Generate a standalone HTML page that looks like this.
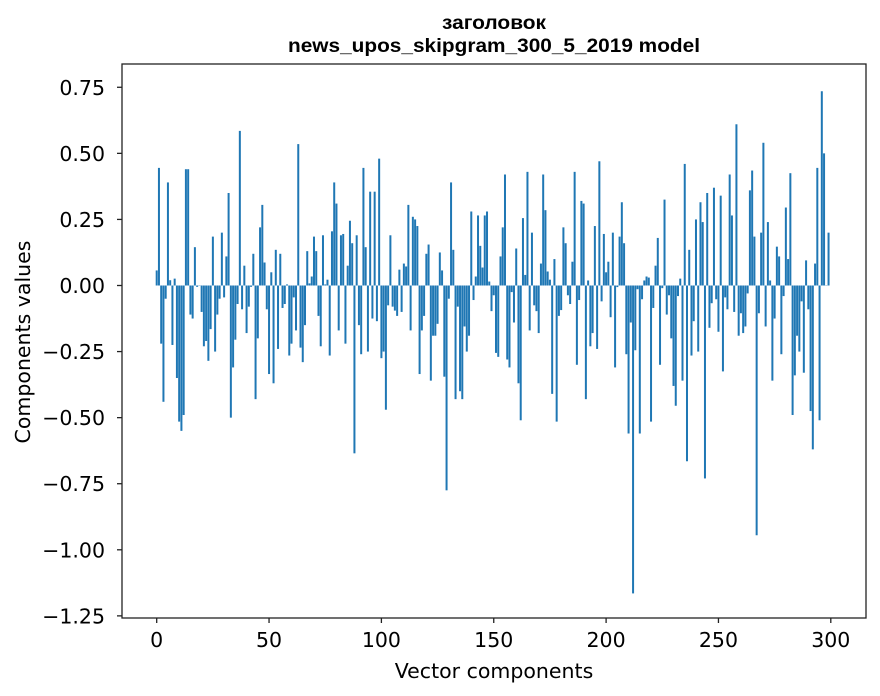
<!DOCTYPE html>
<html><head><meta charset="utf-8"><style>
body{margin:0;background:#fff;}
svg{display:block;}
.tk{font-family:"DejaVu Sans","Liberation Sans",sans-serif;font-size:20.5px;fill:#000;}
.ttl{font-family:"Liberation Sans","DejaVu Sans",sans-serif;font-size:19px;font-weight:bold;fill:#000;}
</style></head><body>
<svg id="chart" width="880" height="696">
<rect x="0" y="0" width="880" height="696" fill="#fff"/>
<g id="bars"></g>
<g id="axes"></g>
<text class="ttl" x="494" y="29" text-anchor="middle" textLength="104" lengthAdjust="spacingAndGlyphs">заголовок</text>
<text class="ttl" x="494" y="52" text-anchor="middle" textLength="412" lengthAdjust="spacingAndGlyphs">news_upos_skipgram_300_5_2019 model</text>
<text class="tk" x="494" y="678" text-anchor="middle">Vector components</text>
<text class="tk" x="30" y="342" text-anchor="middle" transform="rotate(-90 30 342)">Components values</text>
</svg>
<script>
const values = [
0.057,0.445,-0.22,-0.44,-0.05,0.39,0.02,-0.225,0.026,-0.35,
-0.515,-0.55,-0.49,0.44,0.44,-0.11,-0.125,0.145,-0.005,0.0,
-0.1,-0.23,-0.21,-0.285,-0.165,0.185,-0.25,-0.11,-0.05,0.2,
-0.045,0.11,0.35,-0.5,-0.31,-0.205,-0.07,0.585,-0.09,0.075,
-0.18,-0.08,-0.005,0.12,-0.43,-0.2,0.22,0.305,0.087,-0.09,
-0.335,0.05,-0.37,0.135,-0.24,0.12,-0.085,-0.07,0.004,-0.265,
-0.22,-0.045,-0.17,0.535,-0.235,-0.29,-0.15,0.13,0.008,0.034,
0.185,0.13,-0.115,-0.23,0.19,0.004,0.022,-0.265,0.205,0.39,
0.31,-0.17,0.19,0.195,-0.22,0.075,0.245,0.16,-0.635,0.19,
-0.15,-0.26,0.445,0.145,-0.25,0.355,-0.125,0.355,-0.135,0.48,
-0.275,-0.25,-0.47,-0.075,0.19,-0.08,-0.095,-0.115,0.06,-0.1,
0.083,0.072,0.305,-0.17,0.26,0.25,0.225,-0.335,-0.17,-0.115,
0.12,0.155,-0.36,-0.19,-0.19,-0.145,0.125,0.057,-0.345,-0.775,
-0.05,0.39,0.135,-0.43,-0.08,-0.4,-0.43,-0.155,-0.25,-0.19,
0.28,-0.055,0.034,0.265,0.15,0.068,0.265,0.28,0.015,-0.097,
-0.037,-0.255,-0.27,0.11,0.22,0.42,-0.28,-0.31,-0.025,-0.14,
0.14,-0.37,-0.51,0.255,0.04,0.43,-0.17,0.2,-0.075,-0.097,
-0.18,0.083,0.42,0.285,0.053,0.022,-0.41,0.1,-0.515,-0.115,
-0.093,0.22,0.16,-0.037,-0.07,0.09,0.43,-0.3,-0.055,0.32,
0.31,-0.43,0.019,-0.23,-0.18,0.225,-0.24,0.47,-0.06,0.195,
0.05,0.09,-0.12,0.2,-0.31,-0.006,0.185,0.315,0.16,-0.26,
-0.56,-0.14,-1.165,-0.245,-0.014,-0.56,-0.052,0.019,0.034,0.03,
-0.515,-0.085,0.075,0.18,-0.3,-0.01,0.325,-0.11,-0.037,-0.2,
-0.38,-0.455,-0.04,0.026,-0.36,0.46,-0.665,0.135,-0.265,-0.135,
0.25,-0.25,0.315,0.24,-0.73,0.35,-0.16,-0.067,0.37,-0.052,
-0.175,0.34,-0.325,-0.045,-0.09,0.42,0.265,-0.1,0.61,-0.19,
-0.105,-0.18,-0.155,-0.03,0.36,0.435,0.185,-0.945,-0.105,0.2,
0.54,-0.155,0.24,0.019,-0.36,-0.125,0.147,0.11,-0.26,-0.04,
0.295,0.1,0.425,-0.49,-0.34,-0.19,-0.25,-0.06,-0.33,0.095,
-0.09,-0.475,-0.62,0.083,0.445,-0.51,0.735,0.5,0.0,0.2
];
const xTicks = [0,50,100,150,200,250,300];
const yTicks = [0.75,0.5,0.25,0,-0.25,-0.5,-0.75,-1.0,-1.25];
const yTickLabels = ["0.75","0.50","0.25","0.00","\u22120.25","\u22120.50","\u22120.75","\u22121.00","\u22121.25"];

const L=122,R=866,T=64,B=618;
function xs(v){return 156.7+v*2.247;}
function ys(v){return 285.5-v*264.3;}
const NS="http://www.w3.org/2000/svg";
const bars=document.getElementById('bars');
values.forEach((v,i)=>{
  const r=document.createElementNS(NS,'rect');
  const y0=ys(0), y1=ys(v);
  r.setAttribute('x',xs(i)-1.0);
  r.setAttribute('width',2.0);
  r.setAttribute('y',Math.min(y0,y1));
  r.setAttribute('height',Math.max(Math.abs(y1-y0),0.3));
  r.setAttribute('fill','#1f77b4');
  
  
  bars.appendChild(r);
});
const ax=document.getElementById('axes');
function line(x1,y1,x2,y2){const l=document.createElementNS(NS,'line');l.setAttribute('x1',x1);l.setAttribute('y1',y1);l.setAttribute('x2',x2);l.setAttribute('y2',y2);l.setAttribute('stroke','#222');l.setAttribute('stroke-width','1.3');ax.appendChild(l);return l;}
const frame=document.createElementNS(NS,'rect');
frame.setAttribute('x',L);frame.setAttribute('y',T);frame.setAttribute('width',R-L);frame.setAttribute('height',B-T);
frame.setAttribute('fill','none');frame.setAttribute('stroke','#222');frame.setAttribute('stroke-width','1.3');


ax.appendChild(frame);
xTicks.forEach(t=>{
  const x=xs(t);
  line(x,B,x,B+5);
  const tx=document.createElementNS(NS,'text');
  tx.setAttribute('class','tk');tx.setAttribute('x',x);tx.setAttribute('y',B+29);tx.setAttribute('text-anchor','middle');
  tx.textContent=String(t);
  
  
  ax.appendChild(tx);
});
yTicks.forEach((t,i)=>{
  const y=ys(t);
  line(L-5,y,L,y);
  const tx=document.createElementNS(NS,'text');
  tx.setAttribute('class','tk');tx.setAttribute('x',L-17);tx.setAttribute('y',y+7.5);tx.setAttribute('text-anchor','end');
  tx.textContent=yTickLabels[i];
  
  
  ax.appendChild(tx);
});
</script>
</body></html>
